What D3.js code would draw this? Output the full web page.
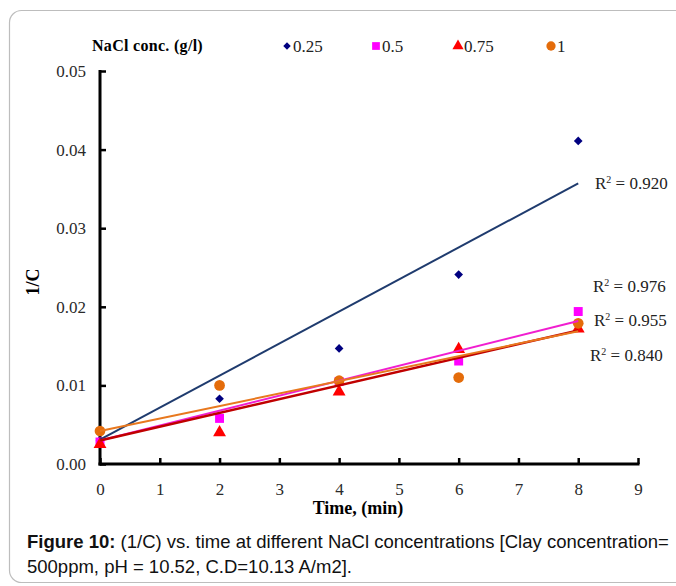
<!DOCTYPE html>
<html>
<head>
<meta charset="utf-8">
<script src="https://cdnjs.cloudflare.com/ajax/libs/d3/7.8.5/d3.min.js"></script>
<style>
    body { margin: 0; background: #fff; }
    svg { display: block; }
</style>
</head>
<body>
<svg id="draw" width="676" height="586"></svg>
<script>
// data
var times = [0, 2, 4, 6, 8];
var seriesNames = ["0.25", "0.5", "0.75", "1"];
var vals025 = [0.0030, 0.0083, 0.0147, 0.0241, 0.0411];
var vals05 = [0.0028, 0.0058, 0.0105, 0.0131, 0.0194];
var vals075 = [0.0025, 0.0040, 0.0092, 0.0146, 0.0172];
var vals1 = [0.0042, 0.0100, 0.0106, 0.0110, 0.0179];
// trend lines (value at t=0 and t=8) and their R2 labels
var trendStart = [0.0031, 0.0030, 0.0030, 0.0042];
var trendEnd = [0.0357, 0.0182, 0.0170, 0.0169];
var r2Labels = ["0.920", "0.976", "0.955", "0.840"];
var xTicks = [0, 1, 2, 3, 4, 5, 6, 7, 8, 9];
var yTicks = [0, 0.01, 0.02, 0.03, 0.04, 0.05];

// ---------------------------------------------------------------------------

var markerColors = ["#000080", "#ff00ff", "#ff0000", "#e46c0a"];
var lineColors = ["#1f3b6e", "#f01ecf", "#c00000", "#e8781e"];
var lineWidths = [2, 2, 2.5, 2];
var symbols = [d3.symbolDiamond2, d3.symbolSquare, d3.symbolTriangle, d3.symbolCircle];
var symSizes = [48, 80, 72, 90];
var allVals = [vals025, vals05, vals075, vals1];

var svg = d3.select("#draw");
var serif = "'Liberation Serif', 'Times New Roman', serif";

var xScale = d3.scaleLinear()
    .domain([0, 9])
    .range([100, 638]);
var yScale = d3.scaleLinear()
    .domain([0, 0.05])
    .range([464, 71]);

// outer frame
svg.append("rect")
    .attr("x", 9.5)
    .attr("y", 10.5)
    .attr("width", 700)
    .attr("height", 572)
    .attr("rx", 12)
    .attr("fill", "none")
    .attr("stroke", "#bdbdbd")
    .attr("stroke-width", 1.2);

// axes -----------------------------------------------------------------------
var xAxis = svg.append("g")
    .attr("transform", "translate(0,464)")
    .call(d3.axisBottom(xScale).tickValues(xTicks).tickSize(-6).tickPadding(19).tickFormat(d3.format("d")));
var yAxis = svg.append("g")
    .attr("transform", "translate(100,0)")
    .call(d3.axisLeft(yScale).tickValues(yTicks).tickSize(-6).tickPadding(14).tickFormat(d3.format(".2f")));

[xAxis, yAxis].forEach(function (ax) {
    ax.select(".domain")
        .attr("stroke", "#000")
        .attr("stroke-width", 3);
    ax.selectAll(".tick line")
        .attr("stroke", "#000")
        .attr("stroke-width", 2.5);
    ax.selectAll(".tick text")
        .attr("fill", "#2a2a2a")
        .style("font-family", serif)
        .style("font-size", "17px");
});
xAxis.select(".domain").attr("d", "M98.5,0H639.5");
yAxis.select(".domain").attr("d", "M0,70V465.5");

// axis titles
svg.append("text")
    .attr("x", 358)
    .attr("y", 514)
    .attr("text-anchor", "middle")
    .style("font-family", serif)
    .style("font-size", "18px")
    .style("font-weight", "bold")
    .text("Time, (min)");
svg.append("text")
    .attr("transform", "translate(39,282) rotate(-90)")
    .attr("text-anchor", "middle")
    .style("font-family", serif)
    .style("font-size", "18px")
    .style("font-weight", "bold")
    .text("1/C");

// markers ----------------------------------------------------------------------
allVals.forEach(function (vals, i) {
    svg.append("g")
        .selectAll("path")
        .data(vals)
        .enter()
        .append("path")
        .attr("transform", (d, j) => "translate(" + xScale(times[j]) + "," + yScale(d) + ")")
        .attr("d", d3.symbol().type(symbols[i]).size(symSizes[i]))
        .attr("fill", markerColors[i]);
});

// trend lines
svg.append("g")
    .selectAll("line")
    .data(trendStart)
    .enter()
    .append("line")
    .attr("x1", xScale(0))
    .attr("y1", (d) => yScale(d))
    .attr("x2", xScale(8))
    .attr("y2", (d, i) => yScale(trendEnd[i]))
    .attr("stroke", (d, i) => lineColors[i])
    .attr("stroke-width", (d, i) => lineWidths[i]);

// R2 labels
var r2Pos = [[595, 189], [593, 292], [594, 326], [590, 361]];
r2Labels.forEach(function (lab, i) {
    var t = svg.append("text")
        .attr("x", r2Pos[i][0])
        .attr("y", r2Pos[i][1])
        .style("font-family", serif)
        .style("font-size", "17px")
        .attr("fill", "#222");
    t.append("tspan").text("R");
    t.append("tspan").attr("dy", -6).style("font-size", "10px").text("2");
    t.append("tspan").attr("dy", 6).text(" = " + lab);
});

// legend -----------------------------------------------------------------------
svg.append("text")
    .attr("x", 92)
    .attr("y", 51)
    .style("font-family", serif)
    .style("font-size", "16px")
    .style("font-weight", "bold")
    .style("letter-spacing", "0.3px")
    .text("NaCl conc. (g/l)");
var legX = [287, 376, 458, 551];
seriesNames.forEach(function (nm, i) {
    svg.append("path")
        .attr("transform", "translate(" + legX[i] + ",46)")
        .attr("d", d3.symbol().type(symbols[i]).size(symSizes[i] * 0.75))
        .attr("fill", markerColors[i]);
    svg.append("text")
        .attr("x", legX[i] + 6)
        .attr("y", 52)
        .style("font-family", serif)
        .style("font-size", "17px")
        .attr("fill", "#222")
        .text(nm);
});

// caption
var capFont = "'Liberation Sans', Arial, sans-serif";
var cap = svg.append("text")
    .attr("x", 27)
    .attr("y", 548)
    .style("font-family", capFont)
    .style("font-size", "18.5px")
    .attr("fill", "#111");
cap.append("tspan").style("font-weight", "bold").text("Figure 10:");
cap.append("tspan").text(" (1/C) vs. time at different NaCl concentrations [Clay concentration=");
svg.append("text")
    .attr("x", 27)
    .attr("y", 573)
    .style("font-family", capFont)
    .style("font-size", "18.5px")
    .attr("fill", "#111")
    .text("500ppm, pH = 10.52, C.D=10.13 A/m2].");
</script>
</body>
</html>
